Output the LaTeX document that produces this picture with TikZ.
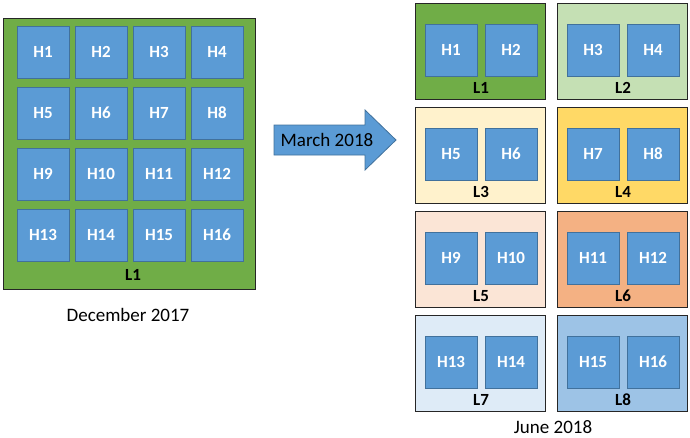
\documentclass[tikz,border=0pt]{standalone}
\usepackage{fontspec}
\setmainfont{Carlito}
\usetikzlibrary{positioning}

\definecolor{hostblue}{HTML}{5B9BD5}
\definecolor{hostedge}{HTML}{41719C}
\definecolor{layA}{HTML}{70AD47}
\definecolor{layB}{HTML}{C5E0B4}
\definecolor{layC}{HTML}{FFF2CC}
\definecolor{layD}{HTML}{FFD966}
\definecolor{layE}{HTML}{FBE5D6}
\definecolor{layF}{HTML}{F4B183}
\definecolor{layG}{HTML}{DEEBF7}
\definecolor{layH}{HTML}{9DC3E6}

\begin{document}
\begin{tikzpicture}[x=1pt,y=-1pt,
	host/.style={draw=hostedge,line width=0.8pt,fill=hostblue,minimum size=52pt,inner sep=0pt,text=white,font=\fontsize{17}{17}\selectfont\bfseries},
	lay/.style={draw=black!85,line width=1pt,inner sep=0pt,anchor=north west},
	laylabel/.style={inner sep=0pt,font=\fontsize{17}{17}\selectfont\bfseries},
	caption/.style={inner sep=0pt,font=\fontsize{19}{19}\selectfont}]
		%\draw[help lines] (0,0) grid (690,437);
		\useasboundingbox (0,0) rectangle (690,437);
		% December 2017
		\node[lay,fill=layA,minimum width=252pt,minimum height=271pt] (big) at (3,18) {};
		\foreach \n in {1,...,16} {
			\pgfmathtruncatemacro{\col}{mod(\n-1,4)}
			\pgfmathtruncatemacro{\row}{div(\n-1,4)}
			\node[host] (h\n) at ({43+58*\col},{52+61*\row}) {H\n};
		}
		\node[laylabel] (bigL) at (133,275) {L1};
		\node[caption] (dec) at (128,315) {December 2017};
		% arrow
		\draw[fill=hostblue,draw=hostedge,line width=0.8pt] (274,125) -- (365,125) -- (365,110) -- (396,140) -- (365,170) -- (365,155) -- (274,155) -- cycle;
		\node[font=\fontsize{19}{19}\selectfont] (mar) at (327,140) {March 2018};
		% June 2018
		\foreach \k/\fc in {1/layA,2/layB,3/layC,4/layD,5/layE,6/layF,7/layG,8/layH} {
			\pgfmathsetmacro{\bx}{415+142*mod(\k-1,2)}
			\pgfmathsetmacro{\by}{3+104*div(\k-1,2)}
			\pgfmathtruncatemacro{\ha}{2*\k-1}
			\pgfmathtruncatemacro{\hb}{2*\k}
			\node[lay,fill=\fc,minimum width=130pt,minimum height=96pt] (lay\k) at (\bx,\by) {};
			\node[host] (s\ha) at ({\bx+36},{\by+47}) {H\ha};
			\node[host] (s\hb) at ({\bx+96},{\by+47}) {H\hb};
			\node[laylabel] (lab\k) at ({\bx+66},{\by+85}) {L\k};
		}
		\node[caption] (jun) at (553,427) {June 2018};
\end{tikzpicture}
\end{document}
